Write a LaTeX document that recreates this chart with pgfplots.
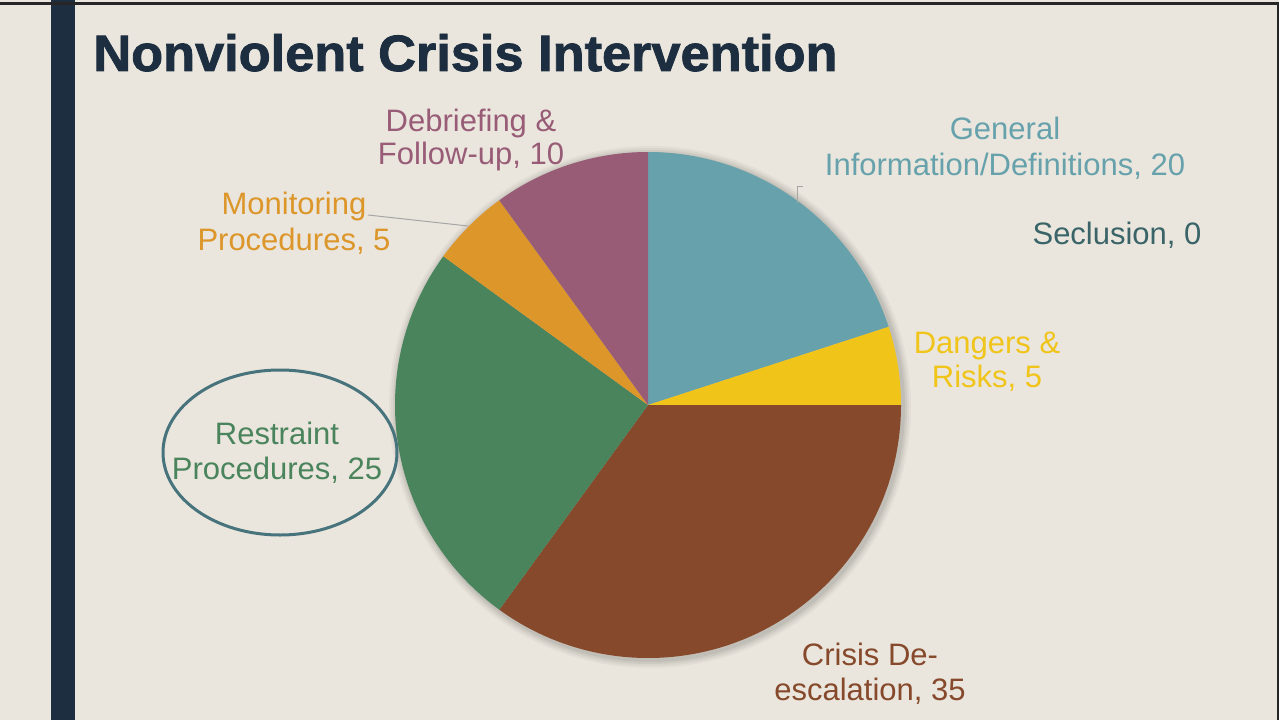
\documentclass[border=0pt]{standalone}
\usepackage{pgfplots}
\pgfplotsset{compat=1.18}
\usepackage{fontspec}
\setmainfont{Liberation Sans}
\newfontfamily\titlefont{Liberation Sans}[BoldFeatures={FakeBold=1.6}]
\usepackage{graphicx}

\definecolor{bg}{HTML}{EAE6DD}
\definecolor{navy}{HTML}{1C2E40}
\definecolor{cgen}{HTML}{67A2AC}
\definecolor{cdan}{HTML}{F0C419}
\definecolor{ccri}{HTML}{86492B}
\definecolor{cres}{HTML}{4A845C}
\definecolor{cmon}{HTML}{DC962A}
\definecolor{cdeb}{HTML}{985C77}
\definecolor{csec}{HTML}{3A6468}
\definecolor{ring}{HTML}{47737C}

% one slice: #1 share before it, #2 its share, #3 colour (pie runs clockwise from the top)
\newcommand\slice[3]{%
  \fill[#3] (axis cs:648,314)
    -- (axis cs:{648+253*cos(90-3.6*#1)},{314+253*sin(90-3.6*#1)})
    arc[start angle={90-3.6*#1}, end angle={90-3.6*(#1+#2)}, radius=126.5pt] -- cycle;}
% one line of label text, centre x and baseline y in pixels from the top
\newcommand\lab[4]{\node[text=#1, anchor=base, inner sep=0pt,
  font=\fontsize{15.5}{17}\selectfont] at (axis cs:#2,{719-#3}) {#4};}

\begin{document}
\begin{tikzpicture}
\begin{axis}[
    width=639.5pt, height=359.5pt, scale only axis,
    xmin=0, xmax=1279, ymin=0, ymax=719,
    axis lines=none, ticks=none, clip=false,
  ]
% slide
\fill[bg] (axis cs:-4,-4) rectangle (axis cs:1283,723);
\fill[navy] (axis cs:51,-4) rectangle (axis cs:75,719);
\draw[black!85, line width=1.5pt] (axis cs:-4,715) -- (axis cs:1283,715);
\draw[black!85, line width=1pt] (axis cs:1278,-4) -- (axis cs:1278,716);
\node[anchor=base west, inner sep=0pt, text=navy] at (axis cs:93,{719-71})
  {\resizebox{372pt}{18.5pt}{\titlefont\bfseries Nonviolent Crisis Intervention}};

% soft shadow
\fill[black, opacity=0.03] (axis cs:650,312) circle[radius=130.5pt];
\fill[black, opacity=0.04] (axis cs:650,312) circle[radius=129.5pt];
\fill[black, opacity=0.05] (axis cs:650,312) circle[radius=128.5pt];
\fill[black, opacity=0.06] (axis cs:650,312) circle[radius=127.5pt];

% data: General 20, Dangers 5, Crisis 35, Restraint 25, Monitoring 5, Debriefing 10, Seclusion 0
\slice{0}{20}{cgen}
\slice{20}{5}{cdan}
\slice{25}{35}{ccri}
\slice{60}{25}{cres}
\slice{85}{5}{cmon}
\slice{90}{10}{cdeb}

% labels
\lab{cgen}{1005}{140}{General}
\lab{cgen}{1005}{175}{Information/Definitions, 20}
\draw[gray!70, line width=0.5pt] (axis cs:803,{719-187}) -- (axis cs:797,{719-187}) -- (axis cs:797,{719-203});
\lab{csec}{1117}{245}{Seclusion, 0}
\lab{cdan}{987}{353}{Dangers \&}
\lab{cdan}{987}{387}{Risks, 5}
\lab{ccri}{870}{665}{Crisis De-}
\lab{ccri}{870}{700}{escalation, 35}
\lab{cres}{277}{444}{Restraint}
\lab{cres}{277}{479}{Procedures, 25}
\draw[ring, line width=1.5pt] (axis cs:280,{719-452.5}) ellipse[x radius=58.5pt, y radius=41.25pt];
\lab{cmon}{294}{215}{Monitoring}
\lab{cmon}{294}{250}{Procedures, 5}
\draw[gray!70, line width=0.5pt] (axis cs:368,{719-215}) -- (axis cs:468,{719-226});
\lab{cdeb}{471}{132}{Debriefing \&}
\lab{cdeb}{471}{165}{Follow-up, 10}
\end{axis}
\pgfresetboundingbox
\useasboundingbox (current axis.south west) rectangle (current axis.north east);
\end{tikzpicture}
\end{document}
